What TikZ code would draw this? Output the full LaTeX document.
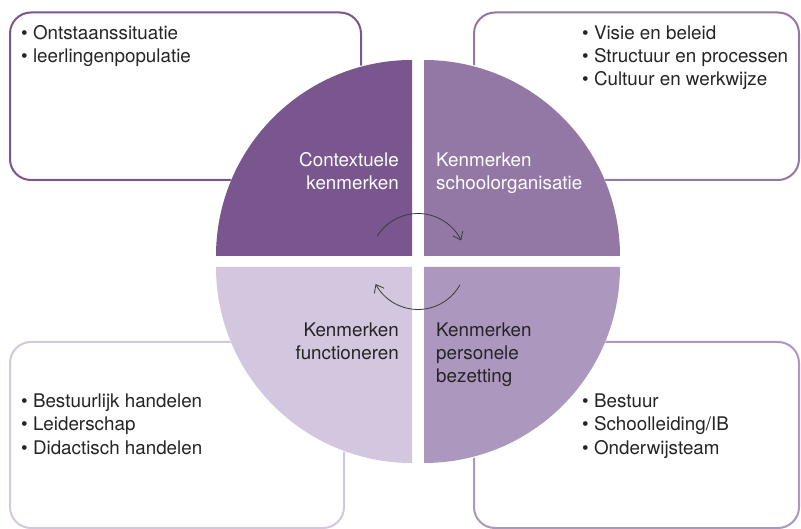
\documentclass[tikz,border=0pt]{standalone}
\usepackage{fontspec}
\setmainfont{TeX Gyre Heros}
\usetikzlibrary{arrows.meta}
\definecolor{qTL}{HTML}{7A568E}
\definecolor{qTR}{HTML}{9378A5}
\definecolor{qBR}{HTML}{AC98BF}
\definecolor{qBL}{HTML}{D3C7DF}
\definecolor{txtdark}{HTML}{262324}
\definecolor{arcgray}{HTML}{3A3A3A}
\tikzset{
  infobox/.style={line width=2pt, rounded corners=21pt},
  boxline/.style={anchor=base west, inner sep=0pt, text=txtdark, font=\fontsize{18.8}{22.5}\selectfont},
  qlabelL/.style={anchor=base east, inner sep=0pt, font=\fontsize{18.8}{22.5}\selectfont},
  qlabelR/.style={anchor=base west, inner sep=0pt, font=\fontsize{18.8}{22.5}\selectfont},
  cyclearrow/.style={draw=arcgray, line width=0.8pt, -{Straight Barb[length=7pt,width=11pt]}}
}
\begin{document}
\begin{tikzpicture}[x=1pt,y=-1pt]
\useasboundingbox (0,0) rectangle (801,529);
% boxes
\draw[infobox, draw=qTL] (10,12.5) rectangle (361,180);
\draw[infobox, draw=qTR] (474,12.5) rectangle (799,180);
\draw[infobox, draw=qBL] (10,342) rectangle (344,528);
\draw[infobox, draw=qBR] (474,342) rectangle (799,528);
% white halo
\fill[white] (418,261.5) circle[radius=204];
% quadrants
\fill[qTL] (412,256) -- (216,256) arc[start angle=180, end angle=270, radius=196] -- cycle;
\fill[qTR] (424,256) -- (424,60) arc[start angle=270, end angle=360, radius=196] -- cycle;
\fill[qBR] (424,267) -- (620,267) arc[start angle=0, end angle=90, radius=196] -- cycle;
\fill[qBL] (412,267) -- (412,463) arc[start angle=90, end angle=180, radius=196] -- cycle;
% quadrant labels
\node[qlabelL, text=white] (q1a) at (399,167) {Contextuele};
\node[qlabelL, text=white] (q1b) at (399,190) {kenmerken};
\node[qlabelR, text=white] (q2a) at (436,167) {Kenmerken};
\node[qlabelR, text=white] (q2b) at (436,190) {schoolorganisatie};
\node[qlabelL, text=txtdark] (q3a) at (399,337) {Kenmerken};
\node[qlabelL, text=txtdark] (q3b) at (399,360) {functioneren};
\node[qlabelR, text=txtdark] (q4a) at (436,337) {Kenmerken};
\node[qlabelR, text=txtdark] (q4b) at (436,360) {personele};
\node[qlabelR, text=txtdark] (q4c) at (436,383) {bezetting};
% box texts
\node[boxline] (t1) at (21,40) {• Ontstaanssituatie};
\node[boxline] (t2) at (21,63) {• leerlingenpopulatie};
\node[boxline] (r1) at (582,40) {• Visie en beleid};
\node[boxline] (r2) at (582,63) {• Structuur en processen};
\node[boxline] (r3) at (582,86) {• Cultuur en werkwijze};
\node[boxline] (b1) at (21,408) {• Bestuurlijk handelen};
\node[boxline] (b2) at (21,431) {• Leiderschap};
\node[boxline] (b3) at (21,454) {• Didactisch handelen};
\node[boxline] (s1) at (582,408) {• Bestuur};
\node[boxline] (s2) at (582,431) {• Schoolleiding/IB};
\node[boxline] (s3) at (582,454) {• Onderwijsteam};
% cycle arrows
\coordinate (ctr) at (418,261.5);
\draw[cyclearrow] (ctr) ++(-148:48) arc[start angle=-148, end angle=-26, radius=48];
\draw[cyclearrow] (ctr) ++(29:48) arc[start angle=29, end angle=152, radius=48];
\end{tikzpicture}
\end{document}
